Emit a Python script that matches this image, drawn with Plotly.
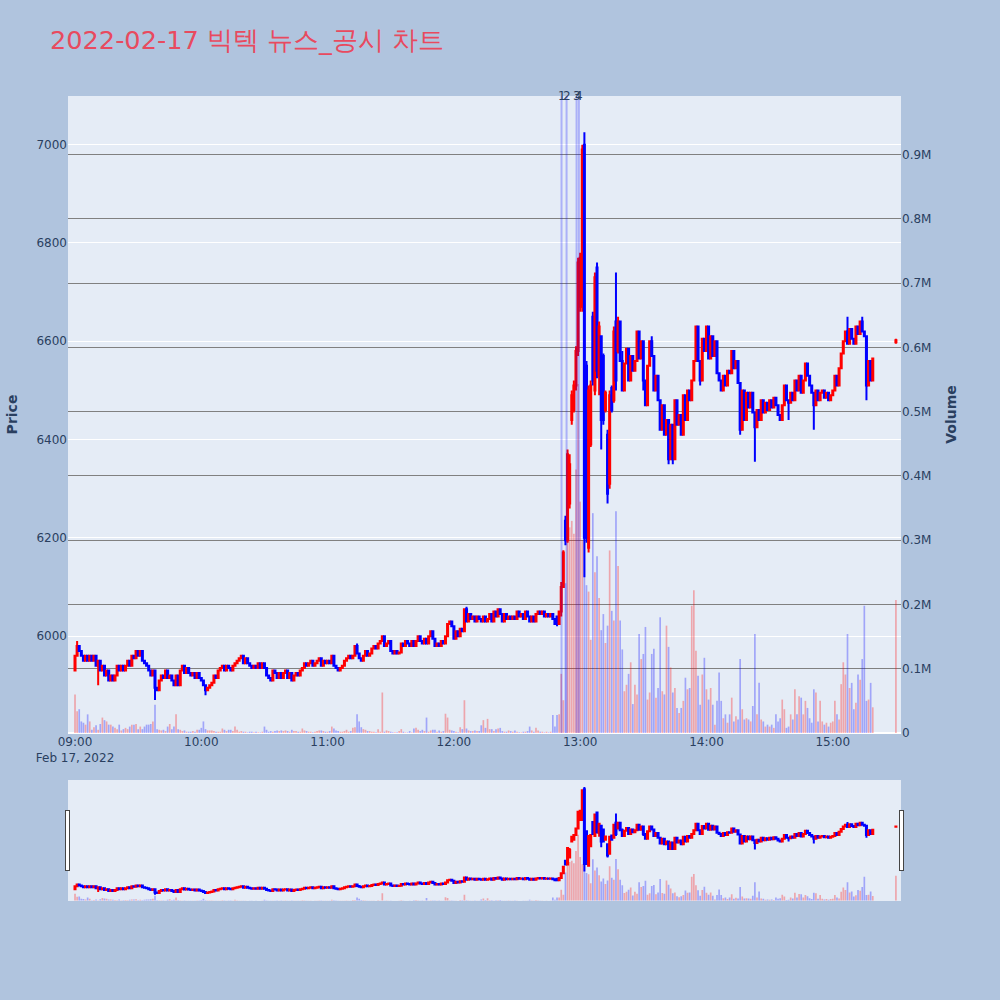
import plotly.graph_objects as go
from plotly.subplots import make_subplots
import pandas as pd

TITLE = "2022-02-17 빅텍 뉴스_공시 차트"
START = pd.Timestamp("2022-02-17 09:00")

# ---- minute closes 09:00 .. 12:48 (t = 0..228) ----
first_open = 5930
closes_am = [
    5960, 5980, 5970, 5960, 5950, 5960, 5950, 5960, 5950, 5960,
    5940, 5950, 5930, 5940, 5920, 5930, 5910, 5920, 5910, 5920,
    5940, 5930, 5940, 5930, 5940, 5950, 5940, 5960, 5955, 5970,
    5960, 5970, 5950, 5945, 5940, 5930, 5920, 5930, 5895, 5890,
    5910, 5920, 5915, 5930, 5915, 5920, 5910, 5900, 5920, 5900,
    5930, 5940, 5925, 5935, 5925, 5920, 5925, 5915, 5925, 5915,
    5910, 5900, 5890, 5895, 5900, 5905, 5920, 5915, 5930, 5935,
    5940, 5930, 5940, 5935, 5930, 5940, 5945, 5950, 5955, 5960,
    5945, 5955, 5945, 5940, 5935, 5940, 5935, 5945, 5935, 5945,
    5935, 5920, 5915, 5910, 5930, 5925, 5915, 5925, 5915, 5925,
    5930, 5915, 5925, 5910, 5920, 5925, 5920, 5930, 5935, 5945,
    5940, 5945, 5950, 5940, 5945, 5950, 5955, 5940, 5950, 5945,
    5950, 5945, 5960, 5940, 5935, 5930, 5935, 5940, 5950, 5955,
    5960, 5955, 5960, 5980, 5965, 5955, 5950, 5960, 5970, 5960,
    5965, 5975, 5980, 5975, 5985, 5990, 6000, 5980, 5985, 5990,
    5970, 5965, 5970, 5965, 5967, 5985, 5980, 5990, 5985, 5980,
    5990, 5980, 5990, 6000, 5990, 5985, 5995, 5985, 6000, 6010,
    5995, 5980, 5985, 5980, 5990, 5985, 6000, 6025, 6030, 6020,
    5995, 6010, 6000, 6015, 6010, 6055, 6030, 6045, 6035, 6040,
    6030, 6040, 6035, 6030, 6040, 6030, 6035, 6045, 6030, 6050,
    6040, 6055, 6045, 6030, 6045, 6035, 6040, 6035, 6040, 6035,
    6050, 6040, 6045, 6035, 6050, 6040, 6030, 6040, 6030, 6045,
    6050, 6045, 6050, 6040, 6045, 6040, 6045, 6035, 6025,
]

# ---- explicit OHLC for the news spike (t = 229..258) ----
spike_open = [6040, 6025, 6050, 6100, 6235, 6195, 6270, 6440, 6460, 6510,
              6580, 6670, 6670, 7000, 6550, 6180, 6390, 6650, 6500, 6750,
              6530, 6610, 6570, 6460, 6410, 6310, 6505, 6480, 6640, 6580]
spike_high = [6040, 6050, 6110, 6175, 6245, 6380, 6370, 6500, 6520, 6590,
              6770, 6780, 7000, 7025, 6560, 6510, 6520, 6660, 6740, 6760,
              6640, 6610, 6575, 6500, 6420, 6500, 6510, 6630, 6740, 6650]
spike_low = [6020, 6025, 6040, 6100, 6185, 6190, 6260, 6430, 6455, 6500,
             6570, 6660, 6660, 6120, 6190, 6170, 6385, 6510, 6490, 6525,
             6490, 6380, 6430, 6455, 6270, 6300, 6455, 6475, 6500, 6575]
spike_close = [6025, 6050, 6100, 6170, 6195, 6370, 6350, 6490, 6510, 6580,
               6760, 6770, 6990, 6200, 6200, 6500, 6510, 6520, 6730, 6540,
               6630, 6440, 6440, 6495, 6290, 6490, 6460, 6620, 6520, 6640]

# ---- minute closes 13:19 .. 15:19 (t = 259..379) ----
closes_pm = [
    6560, 6500, 6555, 6585, 6520, 6570, 6540, 6560, 6620, 6565,
    6600, 6520, 6470, 6550, 6600, 6570, 6500, 6530, 6480, 6420,
    6470, 6410, 6440, 6360, 6430, 6360, 6480, 6430, 6450, 6410,
    6490, 6440, 6500, 6480, 6520, 6560, 6630, 6560, 6520, 6605,
    6580, 6630, 6565, 6610, 6570, 6600, 6535, 6520, 6500, 6530,
    6510, 6540, 6535, 6580, 6545, 6560, 6515, 6420, 6500, 6440,
    6495, 6465, 6495, 6455, 6425, 6460, 6440, 6480, 6455, 6475,
    6460, 6480, 6465, 6485, 6470, 6450, 6440, 6470, 6510, 6480,
    6475, 6495, 6480, 6520, 6500, 6530, 6495, 6520, 6555, 6530,
    6510, 6495, 6470, 6500, 6480, 6495, 6500, 6485, 6495, 6480,
    6490, 6500, 6530, 6510, 6545, 6575, 6600, 6620, 6595, 6625,
    6605, 6595, 6630, 6615, 6640, 6620, 6610, 6510, 6560, 6520,
    6565,
]

# wick extremes (minute index -> price)
wick_high = {1: 5990, 134: 5985, 186: 6060, 260: 6580, 274: 6610, 296: 6615,
             367: 6650, 374: 6650}
wick_low = {11: 5900, 38: 5870, 62: 5880, 270: 6500, 282: 6350, 284: 6350,
            297: 6510, 316: 6410, 323: 6355, 339: 6440, 351: 6420, 376: 6480}

# closing auction 15:30 (t = 390)
auction_t = 390
auction_ohlc = [6598, 6605, 6595, 6602]

# ---- volume, thousands of shares, t = 0..379 ----
vol_am = [
    60, 34, 37, 18, 16, 13, 29, 18, 5, 9,
    12, 5, 14, 24, 20, 18, 13, 13, 10, 8,
    6, 13, 4, 6, 8, 6, 10, 13, 13, 14,
    6, 10, 6, 10, 13, 13, 14, 18, 44, 6,
    5, 4, 5, 3, 10, 14, 6, 10, 29, 6,
    5, 3, 4, 2, 2, 2, 3, 2, 5, 5,
    8, 18, 6, 4, 4, 4, 3, 2, 2, 2,
    7, 5, 3, 5, 5, 3, 10, 5, 2, 3,
    2, 2, 1, 2, 2, 1, 2, 1, 1, 2,
    10, 5, 2, 3, 2, 3, 4, 3, 4, 3,
    4, 3, 2, 5, 3, 3, 2, 2, 7, 4,
    3, 2, 2, 1, 2, 3, 4, 4, 3, 2,
    2, 3, 10, 7, 4, 3, 2, 2, 3, 5,
    2, 3, 8, 9, 29, 18, 9, 6, 5, 3,
    3, 2, 2, 1, 6, 2, 63, 2, 4, 3,
    2, 1, 1, 1, 3, 6, 2, 1, 1, 3,
    1, 7, 8, 5, 3, 5, 3, 24, 2, 4,
    5, 5, 2, 4, 2, 3, 30, 24, 5, 4,
    3, 2, 1, 9, 6, 51, 7, 4, 3, 3,
    4, 3, 3, 12, 20, 8, 22, 6, 6, 3,
    6, 7, 8, 3, 2, 2, 4, 3, 2, 4,
    2, 1, 1, 2, 2, 3, 10, 4, 2, 8,
    4, 2, 2, 1, 2, 1, 2, 28, 10, 28,
]
vol_spike = [29, 92, 51, 233, 320, 320, 330, 310, 410, 543,
             360, 300, 450, 230, 220, 145, 342, 250, 275, 210,
             160, 185, 140, 167, 284, 190, 175, 345, 260, 175,
             130, 65, 75, 92, 110, 45, 75, 60]
vol_pm = [
    154, 115, 123, 165, 52, 63, 123, 131, 55, 70,
    180, 65, 60, 167, 134, 102, 63, 70, 39, 31,
    39, 50, 86, 68, 70, 198, 222, 128, 89, 44,
    91, 117, 68, 52, 70, 44, 13, 50, 94, 50,
    23, 29, 16, 29, 55, 18, 26, 21, 115, 37,
    21, 23, 21, 18, 42, 154, 29, 78, 21, 18,
    10, 13, 10, 13, 8, 29, 18, 23, 52, 37,
    8, 10, 29, 21, 68, 29, 57, 55, 29, 50,
    39, 23, 16, 68, 63, 18, 50, 18, 13, 16,
    10, 16, 18, 50, 29, 21, 76, 110, 91, 154,
    70, 78, 37, 47, 91, 83, 115, 198, 50, 52,
    78, 40,
]
vol_auction = 207

# news / disclosure markers
news_times = ["2022-02-17 12:51:08", "2022-02-17 12:53:32",
              "2022-02-17 12:58:16", "2022-02-17 12:59:23"]
news_labels = ["1", "2", "3", "4"]

x_range = ["2022-02-17 08:56:40", "2022-02-17 15:32:25"]
price_range = [5803, 7099]
volume_range = [0, 991000]

# ---- assemble OHLC ----
O, H, L, C, T = [], [], [], [], []
prev = first_open
for t, c in enumerate(closes_am):
    O.append(prev); C.append(c); T.append(t); prev = c
for i in range(len(spike_close)):
    O.append(spike_open[i]); C.append(spike_close[i]); T.append(229 + i)
prev = spike_close[-1]
for i, c in enumerate(closes_pm):
    O.append(prev); C.append(c); T.append(259 + i); prev = c
for i, t in enumerate(T):
    if 229 <= t <= 258:
        H.append(spike_high[t - 229]); L.append(spike_low[t - 229])
    else:
        H.append(max(O[i], C[i], wick_high.get(t, 0)))
        L.append(min(O[i], C[i], wick_low.get(t, 99999)))
O.append(auction_ohlc[0]); H.append(auction_ohlc[1])
L.append(auction_ohlc[2]); C.append(auction_ohlc[3]); T.append(auction_t)

times = [START + pd.Timedelta(minutes=t) for t in T]
volumes = [v * 1000 for v in (vol_am + vol_spike + vol_pm)] + [vol_auction * 1000]

colors = []
prev_c = first_open
for o, c in zip(O, C):
    up = c > o or (c == o and c >= prev_c)
    colors.append("rgba(255,0,0,0.3)" if up else "rgba(0,0,255,0.3)")
    prev_c = c

FONT = "DejaVu Sans"

fig = make_subplots(specs=[[{"secondary_y": True}]])
fig.add_trace(go.Candlestick(
    x=times, open=O, high=H, low=L, close=C, name="Price",
    increasing=dict(line=dict(color="red"), fillcolor="red"),
    decreasing=dict(line=dict(color="blue"), fillcolor="blue"),
), secondary_y=False)
fig.add_trace(go.Bar(
    x=times, y=volumes, name="Volume",
    marker=dict(color=colors, line=dict(width=0)),
), secondary_y=True)

for nt, lab in zip(news_times, news_labels):
    fig.add_shape(type="line", xref="x", yref="paper", x0=nt, x1=nt, y0=0, y1=1,
                  line=dict(color="rgba(0,0,255,0.25)", width=2))
    fig.add_annotation(x=nt, y=1, xref="x", yref="paper", text=lab, showarrow=False,
                       xanchor="center", yanchor="middle",
                       font=dict(size=12, color="#2a3f5f", family=FONT))

fig.update_layout(
    width=1000, height=1000,
    font=dict(family=FONT),
    paper_bgcolor="#B0C4DE", plot_bgcolor="#E5ECF6",
    title=dict(text=TITLE, x=0.05, xanchor="left", y=0.96, yanchor="middle",
               font=dict(size=25.6, color="#E84A5F", family=FONT)),
    margin=dict(l=68, r=99, t=96, b=100),
    showlegend=False,
    bargap=0.2,
)
fig.update_xaxes(range=x_range, showgrid=False, domain=[0, 1],
                 rangeslider=dict(visible=True, range=x_range))
fig.update_yaxes(title_text="<b>Price</b>", range=price_range, secondary_y=False)
fig.update_yaxes(title_text="<b>Volume</b>", range=volume_range, showgrid=True,
                 gridcolor="gray", secondary_y=True)

fig.write_html("out.html", config={"displayModeBar": False},
               post_script="document.body.style.margin='0';")
